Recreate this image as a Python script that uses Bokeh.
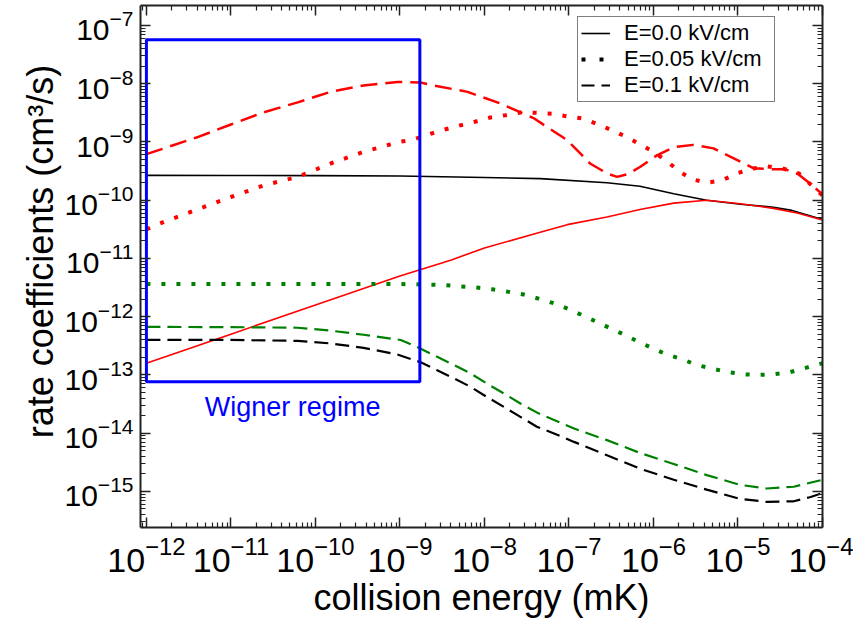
import math
from bokeh.plotting import figure
from bokeh.models import (Range1d, FixedTicker, Label, Legend, LegendItem, LogAxis,
                          ColumnDataSource)
from bokeh.embed import file_html
from bokeh.resources import INLINE

# ---------------- data (log10 values) ----------------
black_solid_logE = [-12, -11, -10, -9, -8, -7.34, -6.55, -6.16, -5.76, -5.37, -4.97, -4.58, -4.38, -4.0]
black_solid_logK = [-9.573, -9.575, -9.578, -9.585, -9.61, -9.63, -9.70, -9.76, -9.89, -10.0, -10.07, -10.12, -10.17, -10.33]

red_solid_logE = [-12, -11, -10, -9, -8.4, -8, -7.34, -7.02, -6.55, -6.16, -5.76, -5.37, -4.97, -4.58, -4.3, -4.0]
red_solid_logK = [-12.80, -12.30, -11.80, -11.30, -11.03, -10.82, -10.55, -10.42, -10.29, -10.16, -10.05, -10.0, -10.06, -10.14, -10.22, -10.34]

red_dot_logE = [-12, -11.79, -11.40, -11.0, -10.61, -10.21, -9.82, -9.43, -9.01, -8.84, -8.66, -8.48,
                -8.30, -8.13, -7.93, -7.75, -7.555, -7.38, -7.20, -7.02, -6.83, -6.65, -6.49, -6.31,
                -6.16, -6.0, -5.84, -5.70, -5.545, -5.37, -5.19, -5.01, -4.84, -4.66, -4.46, -4.28,
                -4.17, -4.0]
red_dot_logK = [-10.50, -10.37, -10.16, -9.945, -9.744, -9.60, -9.37, -9.17, -9.0, -8.96, -8.87, -8.79,
                -8.72, -8.66, -8.58, -8.54, -8.49, -8.50, -8.515, -8.56, -8.60, -8.70, -8.80, -8.92,
                -9.04, -9.17, -9.33, -9.50, -9.64, -9.70, -9.66, -9.54, -9.46, -9.42, -9.46, -9.54,
                -9.69, -9.92]

green_dot_logE = [-12, -11, -10, -9, -8.64, -8.46, -8.28, -8.09, -7.91, -7.73, -7.535, -7.36, -7.18,
                  -7.0, -6.85, -6.67, -6.51, -6.33, -6.18, -6.0, -5.84, -5.66, -5.49, -5.31, -5.13,
                  -4.93, -4.76, -4.58, -4.38, -4.20, -4.0]
green_dot_logK = [-11.44, -11.44, -11.44, -11.44, -11.45, -11.46, -11.48, -11.50, -11.53, -11.57, -11.62,
                  -11.69, -11.77, -11.87, -11.97, -12.09, -12.20, -12.32, -12.43, -12.55, -12.65,
                  -12.73, -12.83, -12.89, -12.95, -12.99, -13.0, -12.99, -12.95, -12.88, -12.80]

red_dash_logE = [-12, -11.4, -11.0, -10.61, -10.21, -9.82, -9.43, -9.03, -8.76, -8.6, -8.2, -7.81, -7.42,
                 -7.02, -6.94, -6.75, -6.55, -6.43, -6.3, -6.16, -5.96, -5.76, -5.53, -5.29, -5.05,
                 -4.82, -4.58, -4.44, -4.29, -4.15, -4.0]
red_dash_logK = [-9.21, -8.92, -8.70, -8.49, -8.32, -8.14, -8.03, -7.97, -7.98, -8.03, -8.14, -8.34, -8.59,
                 -8.97, -9.09, -9.37, -9.54, -9.60, -9.55, -9.43, -9.23, -9.09, -9.05, -9.11, -9.28,
                 -9.45, -9.47, -9.47, -9.55, -9.71, -9.90]

green_dash_logE = [-12, -11, -10.21, -9.82, -9.43, -8.99, -8.76, -8.56, -8.36, -8.17, -7.97, -7.77, -7.575,
                   -7.36, -7.10, -6.94, -6.55, -6.16, -5.76, -5.37, -4.97, -4.66, -4.34, -4.0]
green_dash_logK = [-12.175, -12.18, -12.19, -12.24, -12.31, -12.40, -12.545, -12.69, -12.83, -12.97,
                   -13.15, -13.32, -13.49, -13.66, -13.82, -13.92, -14.12, -14.34, -14.53, -14.72,
                   -14.89, -14.95, -14.92, -14.80]

black_dash_logE = [-12, -11, -10.21, -9.82, -9.43, -9.03, -8.76, -8.56, -8.36, -8.17, -7.97, -7.77, -7.575,
                   -7.38, -7.10, -6.94, -6.55, -6.16, -5.76, -5.37, -4.97, -4.66, -4.34, -4.15, -4.0]
black_dash_logK = [-12.40, -12.40, -12.415, -12.46, -12.535, -12.65, -12.78, -12.92, -13.06, -13.20,
                   -13.38, -13.55, -13.72, -13.89, -14.05, -14.15, -14.38, -14.61, -14.80, -14.97,
                   -15.13, -15.18, -15.17, -15.10, -15.03]

# Wigner regime box (data bounds)
wigner_left, wigner_right = 1.0e-12, 1.72e-9
wigner_bottom, wigner_top = 7.6e-14, 5.7e-8

x_tick_exps = [-12, -11, -10, -9, -8, -7, -6, -5, -4]
y_tick_exps = [-15, -14, -13, -12, -11, -10, -9, -8, -7]
legend_labels = ["E=0.0 kV/cm", "E=0.05 kV/cm", "E=0.1 kV/cm"]
x_title = "collision energy (mK)"
y_title = "\u00a0\u00a0\u00a0rate coefficients (cm³/s)"

# ---------------- figure ----------------
FONT = "Liberation Sans"
p = figure(width=853, height=621, x_axis_type="log", y_axis_type="log",
           x_range=Range1d(10 ** -12.07, 1e-4), y_range=Range1d(10 ** -15.62, 10 ** -6.657),
           output_backend="svg", toolbar_location=None,
           min_border_left=140, min_border_right=31, min_border_top=5, min_border_bottom=94)
p.xgrid.visible = False
p.ygrid.visible = False
p.outline_line_color = None
p.background_fill_color = "white"

xt = [10.0 ** e for e in x_tick_exps]
yt = [10.0 ** e for e in y_tick_exps]
xminor = [k * 10.0 ** e for e in range(-13, -4) for k in range(2, 10)]
yminor = [k * 10.0 ** e for e in range(-16, -7) for k in range(2, 10)]


def style_axis(ax, ticks, minor, show, size=30, standoff=6):
    ax.ticker = FixedTicker(ticks=ticks, minor_ticks=minor)
    if show:
        ax.major_label_text_font_size = f"{size}px"
        ax.major_label_text_font = FONT
        ax.major_label_text_color = "black"
        ax.major_label_standoff = standoff
    else:
        ax.major_label_text_font_size = "1px"
        ax.major_label_text_color = None
        ax.major_label_standoff = 0
    ax.axis_line_width = 2
    ax.axis_line_color = "#222222"
    ax.major_tick_in = 10
    ax.major_tick_out = 0
    ax.minor_tick_in = 5
    ax.minor_tick_out = 0
    ax.major_tick_line_width = 1.5
    ax.minor_tick_line_width = 1.2
    ax.major_tick_line_color = "#222222"
    ax.minor_tick_line_color = "#222222"


style_axis(p.xaxis[0], xt, xminor, True, size=34, standoff=9)
style_axis(p.yaxis[0], yt, yminor, True, size=30, standoff=7)
p.xaxis[0].axis_label = x_title
p.xaxis[0].axis_label_text_font = FONT
p.xaxis[0].axis_label_text_font_size = "36px"
p.xaxis[0].axis_label_text_font_style = "normal"
p.xaxis[0].axis_label_text_color = "black"
p.xaxis[0].axis_label_standoff = 2
p.yaxis[0].axis_label = y_title
p.yaxis[0].axis_label_text_font = FONT
p.yaxis[0].axis_label_text_font_size = "36px"
p.yaxis[0].axis_label_text_font_style = "normal"
p.yaxis[0].axis_label_text_color = "black"
p.yaxis[0].axis_label_standoff = 1

top_ax = LogAxis()
right_ax = LogAxis()
style_axis(top_ax, xt, xminor, False)
style_axis(right_ax, yt, yminor, False)
p.add_layout(top_ax, "above")
p.add_layout(right_ax, "right")


def pts(le, lk):
    return ColumnDataSource(data=dict(x=[10.0 ** v for v in le], y=[10.0 ** v for v in lk]))


# curves
p.line("x", "y", source=pts(black_solid_logE, black_solid_logK), line_color="black", line_width=1.6)
p.line("x", "y", source=pts(red_solid_logE, red_solid_logK), line_color="#ff0000", line_width=1.6)
p.line("x", "y", source=pts(red_dot_logE, red_dot_logK), line_color="#ff0000", line_width=4,
       line_dash="4 11")
p.line("x", "y", source=pts(green_dot_logE, green_dot_logK), line_color="#008000", line_width=4,
       line_dash="4 11")
p.line("x", "y", source=pts(red_dash_logE, red_dash_logK), line_color="#ff0000", line_width=2.5,
       line_dash="17 8")
p.line("x", "y", source=pts(green_dash_logE, green_dash_logK), line_color="#008000", line_width=2.2,
       line_dash="14 7")
p.line("x", "y", source=pts(black_dash_logE, black_dash_logK), line_color="black", line_width=2.2,
       line_dash="14 7")

# Wigner regime box
p.quad(left=[wigner_left], right=[wigner_right], bottom=[wigner_bottom], top=[wigner_top],
       fill_color=None, line_color="#0000ff", line_width=3)
p.add_layout(Label(x=10 ** -10.27, y=10 ** -13.55, text="Wigner regime", text_align="center",
                   text_baseline="alphabetic", text_font=FONT, text_font_size="27px",
                   text_color="#0000ff"))

# ---------------- legend ----------------
nan = float("nan")
r_solid = p.line("x", "y", source=ColumnDataSource(data=dict(x=[nan], y=[nan])),
                 line_color="black", line_width=1.6)
r_dot = p.line("x", "y", source=ColumnDataSource(data=dict(x=[nan], y=[nan])),
               line_color="black", line_width=4, line_dash="4 14")
r_dash = p.line("x", "y", source=ColumnDataSource(data=dict(x=[nan], y=[nan])),
                line_color="black", line_width=2.2, line_dash="13 7")
legend = Legend(items=[LegendItem(label=legend_labels[0], renderers=[r_solid]),
                       LegendItem(label=legend_labels[1], renderers=[r_dot]),
                       LegendItem(label=legend_labels[2], renderers=[r_dash])],
                location=(437, 425), padding=3, spacing=0, glyph_width=29, glyph_height=22,
                label_height=22, label_standoff=14, label_width=147,
                label_text_font=FONT, label_text_font_size="22px", label_text_color="black",
                border_line_color="black", border_line_width=1, background_fill_alpha=1,
                margin=0)
p.add_layout(legend, "center")

open("out.html", "w").write(file_html(p, INLINE))
